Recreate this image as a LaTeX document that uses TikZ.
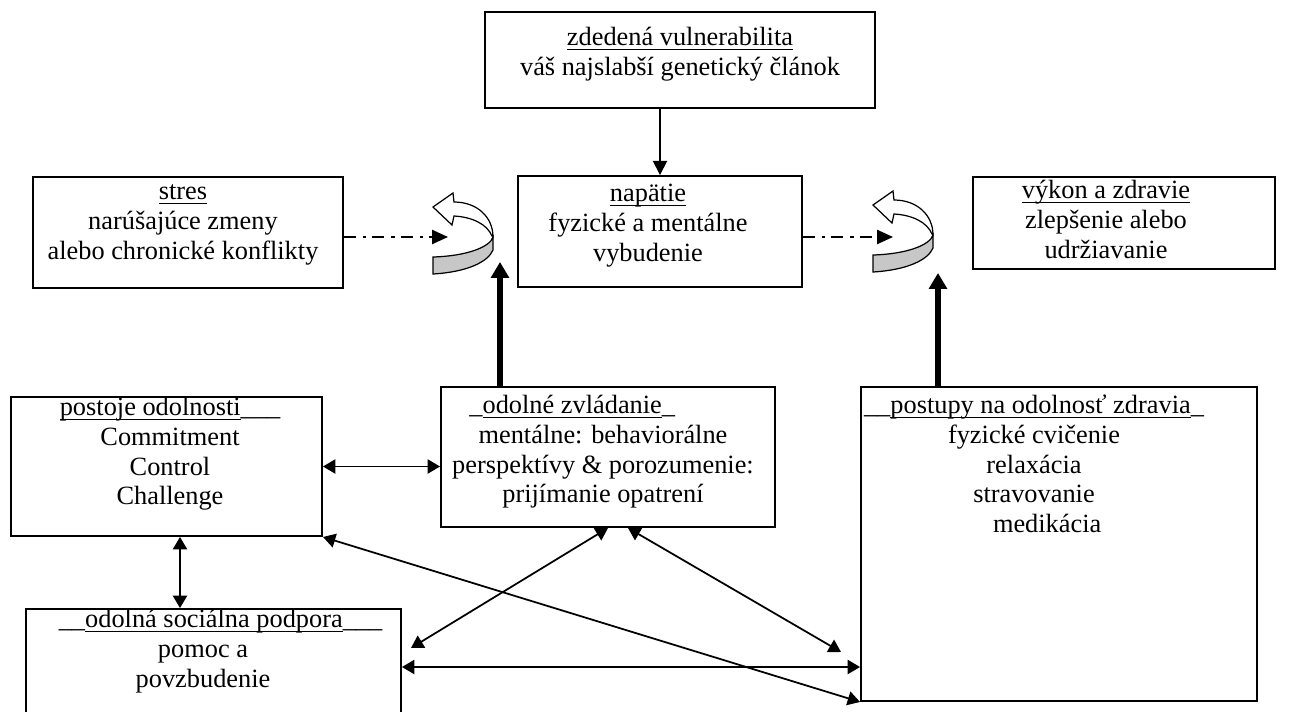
\documentclass[tikz,border=0pt]{standalone}
\usepackage{fontspec}
\setmainfont{Liberation Serif}
\usetikzlibrary{arrows.meta,fit}

\newcommand{\ulw}[1]{\underline{\smash{#1}\rule[-0.8pt]{0pt}{0pt}}}

\tikzset{
  box/.style={draw, line width=1.1pt, inner sep=0pt},
  txt/.style={font=\fontsize{15}{17}\selectfont, align=center, inner sep=0pt, anchor=north},
  arr/.style={line width=1pt, -{Triangle[length=8pt,width=8pt]}},
  dbl/.style={line width=1pt, {Triangle[length=7pt,width=8pt]}-{Triangle[length=7pt,width=8pt]}},
  push/.style={line width=3.2pt, -{Triangle[length=9pt,width=10pt]}},
  dd/.style={line width=1pt, dash pattern=on 6.8pt off 3.8pt on 2.2pt off 3.4pt, -{Triangle[length=9pt,width=8pt]}},
  turn/.pic={
    \draw[line width=0.7pt, fill=white] (61,45) .. controls (61,25) and (45,10) .. (22,10) -- (21,1) -- (1,15) -- (20,33) -- (22,24) .. controls (40,25) and (55,32) .. (60,44) -- cycle;
    \draw[line width=0.7pt, fill=black!22] (1,65) .. controls (35,64) and (58,55) .. (61,45) -- (61,58) .. controls (56,70) and (35,80) .. (1,82) -- cycle;
  }
}

\begin{document}
\begin{tikzpicture}[x=0.02cm, y=-0.02cm]
\useasboundingbox (0,0) rectangle (1296,711);
\clip (0,0) rectangle (1296,711);

% boxes
\node[box, fit={(485,12) (875,108)}] (vul) {};
\node[box, fit={(33,177) (343,288)}] (stres) {};
\node[box, fit={(518,176) (802,287)}] (napatie) {};
\node[box, fit={(973,177) (1275,269)}] (vykon) {};
\node[box, fit={(11,397) (322,536)}] (postoje) {};
\node[box, fit={(441,387) (775,527)}] (zvladanie) {};
\node[box, fit={(861,387) (1257,701)}] (postupy) {};
\node[box, fit={(26,609) (401,725)}] (podpora) {};

% texts
\node[txt] (vulT) at (680,24) {\strut\ulw{zdedená vulnerabilita}\\váš najslabší genetický článok};
\node[txt] (stresT) at (183,178) {\strut\ulw{stres}\\narúšajúce zmeny\\alebo chronické konflikty};
\node[txt] (napatieT) at (648,180) {\strut\ulw{napätie}\\fyzické a mentálne\\vybudenie};
\node[txt] (vykonT) at (1106,177) {\strut\ulw{výkon a zdravie}\\zlepšenie alebo\\udržiavanie};
\node[txt] (postojeT) at (170,394) {\strut\ulw{postoje odolnosti}\_\_\_\\Commitment\\Control\\Challenge};
\node[txt] (zvladanieT) at (603,392) {\strut\_\ulw{odolné zvládanie}\_\hspace*{35pt}\\mentálne: behaviorálne\\perspektívy \& porozumenie:\\prijímanie opatrení};
\node[txt] (postupyT) at (1034,392) {\strut\_\_\ulw{postupy na odolnosť zdravia}\_\\fyzické cvičenie\\relaxácia\hspace*{17pt}\\stravovanie\hspace*{10pt}\\\hspace*{15pt}medikácia};
\node[txt] (podporaT) at (203,606) {\strut\hspace*{20pt}\_\_\ulw{odolná sociálna podpora}\_\_\_\\pomoc a\\povzbudenie};

% turning arrows
\pic at (432,192) {turn};
\pic at (872,190) {turn};
\coordinate (in1) at (448,237);
\coordinate (in2) at (893,237);
\coordinate (up1) at (500,262);
\coordinate (up2) at (938,273);

% connectors
\draw[arr] (napatie.north |- vul.south) -- (napatie.north);
\draw[dd] (stres.east |- in1) -- (in1);
\draw[dd] (napatie.east |- in2) -- (in2);
\draw[push] (zvladanie.north -| up1) -- (up1);
\draw[push] (postupy.north -| up2) -- (up2);
\draw[dbl] (postoje.east) -- (postoje.east -| zvladanie.west);
\draw[dbl] ([xshift=0.27cm]postoje.south) -- ([xshift=0.27cm]postoje.south |- podpora.north);
\draw[dbl] (podpora.east) -- (podpora.east -| postupy.west);
\draw[dbl] (zvladanie.south) -- ([shift={(9,-19)}]podpora.east);
\draw[dbl] ([xshift=0.4cm]zvladanie.south) -- ([shift={(-19,108)}]postupy.west);
\draw[dbl] (postoje.south east) -- (postupy.south west);
\end{tikzpicture}
\end{document}
